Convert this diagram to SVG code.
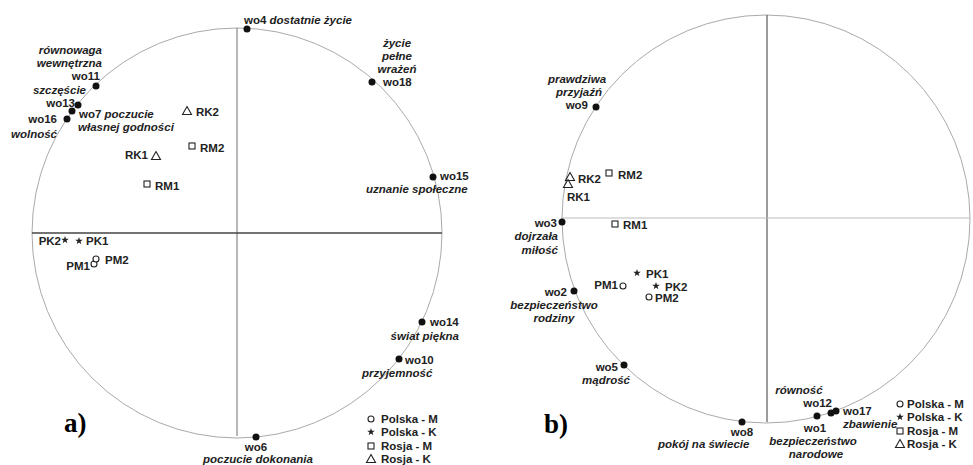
<svg xmlns="http://www.w3.org/2000/svg" xmlns:xlink="http://www.w3.org/1999/xlink" width="973" height="465" viewBox="0 0 973 465">
<style>
text{font-family:"Liberation Sans",Arial,sans-serif;font-weight:bold;font-size:11.5px;fill:#222}
.it{font-style:italic}
.m{text-anchor:middle}
.e{text-anchor:end}
.pl{font-family:"Liberation Serif","Times New Roman",serif;font-size:27px;fill:#000}
.dot{fill:#111}
.sym{fill:#fff;stroke:#222;stroke-width:1.1}
.star{fill:#222}
.circ{fill:none;stroke:#aaa;stroke-width:1}
</style>
<defs>
<path id="star" d="M0,-4 L0.94,-1.29 L3.8,-1.24 L1.52,0.49 L2.35,3.24 L0,1.6 L-2.35,3.24 L-1.52,0.49 L-3.8,-1.24 L-0.94,-1.29 Z"/>
<path id="tri" d="M0,-4.5 L4.5,3.5 L-4.5,3.5 Z"/>
<rect id="sq" x="-3" y="-3" width="6" height="6"/>
</defs>
<rect width="973" height="465" fill="#fff"/>
<g id="axes">
<circle class="circ" cx="237" cy="233" r="205"/>
<line x1="237" y1="28" x2="237" y2="436" stroke="#888" stroke-width="1.2"/>
<line x1="32" y1="233" x2="442" y2="233" stroke="#444" stroke-width="1.5"/>
<circle class="circ" cx="766" cy="219" r="204"/>
<line x1="767" y1="15" x2="767" y2="422" stroke="#666" stroke-width="1.3"/>
<line x1="562" y1="218" x2="970" y2="218" stroke="#bbb" stroke-width="1.2"/>
</g>
<g id="connectors"/>
<g id="panel-a">
<g id="a-wo4"><circle class="dot" cx="247" cy="29" r="3.5"/><text x="244" y="24">wo4 <tspan class="it">dostatnie życie</tspan></text></g>
<g id="a-wo18"><circle class="dot" cx="372" cy="82" r="3.5"/><text x="383" y="86">wo18</text><text class="it m" x="397" y="47">życie</text><text class="it m" x="397" y="60">pełne</text><text class="it m" x="397" y="73">wrażeń</text></g>
<g id="a-wo15"><circle class="dot" cx="433" cy="177" r="3.5"/><text x="440" y="180">wo15</text><text class="it" x="366" y="193">uznanie społeczne</text></g>
<g id="a-wo14"><circle class="dot" cx="422" cy="322" r="3.5"/><text x="430" y="326">wo14</text><text class="it e" x="459" y="340">świat piękna</text></g>
<g id="a-wo10"><circle class="dot" cx="399" cy="359" r="3.5"/><text x="405" y="364">wo10</text><text class="it" x="362" y="377">przyjemność</text></g>
<g id="a-wo6"><circle class="dot" cx="256" cy="437" r="3.5"/><text class="m" x="256" y="451">wo6</text><text class="it m" x="258" y="463">poczucie dokonania</text></g>
<g id="a-wo11"><circle class="dot" cx="96" cy="86" r="3.5"/><text class="it e" x="102" y="54">równowaga</text><text class="it e" x="102" y="67">wewnętrzna</text><text class="e" x="100" y="80">wo11</text></g>
<g id="a-wo13"><circle class="dot" cx="78" cy="105" r="3.5"/><text class="it e" x="86" y="94">szczęście</text><text class="e" x="75" y="107">wo13</text></g>
<g id="a-wo7"><circle class="dot" cx="72" cy="111" r="3.5"/><text x="79" y="118">wo7 <tspan class="it">poczucie</tspan></text><text class="it" x="78" y="131">własnej godności</text></g>
<g id="a-wo16"><circle class="dot" cx="67" cy="119" r="3.5"/><text class="e" x="57" y="123">wo16</text><text class="it e" x="57" y="138">wolność</text></g>
<g id="a-RK2"><use href="#tri" class="sym" x="187" y="111"/><text x="196" y="116">RK2</text></g>
<g id="a-RM2"><use href="#sq" class="sym" x="192" y="146"/><text x="200" y="152">RM2</text></g>
<g id="a-RK1"><use href="#tri" class="sym" x="156" y="156"/><text class="e" x="148" y="159">RK1</text></g>
<g id="a-RM1"><use href="#sq" class="sym" x="147" y="184"/><text x="155" y="190">RM1</text></g>
<g id="a-PK2"><use href="#star" class="star" x="65" y="240"/><text class="e" x="61" y="245">PK2</text></g>
<g id="a-PK1"><use href="#star" class="star" x="79" y="241"/><text x="86" y="245">PK1</text></g>
<g id="a-PM1"><circle class="sym" cx="94" cy="264" r="3"/><text class="e" x="90" y="270">PM1</text></g>
<g id="a-PM2"><circle class="sym" cx="96" cy="259" r="3"/><text x="105" y="264">PM2</text></g>
<text class="pl" x="64" y="432">a)</text>
<g id="a-legend">
<circle class="sym" cx="371" cy="419" r="3"/><text x="381" y="423">Polska - M</text>
<use href="#star" class="star" x="371" y="432"/><text x="381" y="436">Polska - K</text>
<use href="#sq" class="sym" x="371" y="446"/><text x="381" y="450">Rosja - M</text>
<use href="#tri" class="sym" x="371" y="459"/><text x="381" y="463">Rosja - K</text>
</g>
</g>
<g id="panel-b">
<g id="b-wo9"><circle class="dot" cx="596" cy="107" r="3.5"/><text class="it m" x="577" y="83">prawdziwa</text><text class="it m" x="579" y="96">przyjaźń</text><text class="e" x="588" y="109">wo9</text></g>
<g id="b-RK2"><use href="#tri" class="sym" x="570" y="177"/><text x="578" y="183">RK2</text></g>
<g id="b-RK1"><use href="#tri" class="sym" x="568" y="184"/><text x="567" y="201">RK1</text></g>
<g id="b-RM2"><use href="#sq" class="sym" x="609" y="173"/><text x="618" y="179">RM2</text></g>
<g id="b-wo3"><circle class="dot" cx="562" cy="222" r="3.5"/><text class="e" x="557" y="227">wo3</text><text class="it e" x="558" y="240">dojrzała</text><text class="it e" x="558" y="254">miłość</text></g>
<g id="b-RM1"><use href="#sq" class="sym" x="615" y="224"/><text x="623" y="229">RM1</text></g>
<g id="b-PK1"><use href="#star" class="star" x="637" y="273"/><text x="646" y="278">PK1</text></g>
<g id="b-PK2"><use href="#star" class="star" x="656" y="286"/><text x="665" y="291">PK2</text></g>
<g id="b-PM1"><circle class="sym" cx="623" cy="286" r="3"/><text class="e" x="618" y="289">PM1</text></g>
<g id="b-PM2"><circle class="sym" cx="649" cy="297" r="3"/><text x="655" y="302">PM2</text></g>
<g id="b-wo2"><circle class="dot" cx="574" cy="291" r="3.5"/><text class="e" x="567" y="296">wo2</text><text class="it m" x="554" y="309">bezpieczeństwo</text><text class="it m" x="554" y="322">rodziny</text></g>
<g id="b-wo5"><circle class="dot" cx="624" cy="365" r="3.5"/><text class="e" x="618" y="371">wo5</text><text class="it m" x="606" y="384">mądrość</text></g>
<g id="b-wo8"><circle class="dot" cx="742" cy="422" r="3.5"/><text class="m" x="742" y="436">wo8</text><text class="it" x="658" y="448">pokój na świecie</text></g>
<g id="b-wo1"><circle class="dot" cx="817" cy="416" r="3.5"/><text class="m" x="815" y="432">wo1</text><text class="it m" x="813" y="445">bezpieczeństwo</text><text class="it m" x="816" y="458">narodowe</text></g>
<g id="b-wo12"><circle class="dot" cx="831" cy="413" r="3.5"/><text class="e" x="832" y="407">wo12</text><text class="it m" x="799" y="394">równość</text></g>
<g id="b-wo17"><circle class="dot" cx="836" cy="411" r="3.5"/><text x="843" y="415">wo17</text><text class="it" x="843" y="428">zbawienie</text></g>
<text class="pl" x="544" y="433">b)</text>
<g id="b-legend">
<circle class="sym" cx="900" cy="404" r="3"/><text x="907" y="408">Polska - M</text>
<use href="#star" class="star" x="900" y="417"/><text x="907" y="421">Polska - K</text>
<use href="#sq" class="sym" x="900" y="431"/><text x="907" y="435">Rosja - M</text>
<use href="#tri" class="sym" x="900" y="444"/><text x="907" y="448">Rosja - K</text>
</g>
</g>
</svg>
